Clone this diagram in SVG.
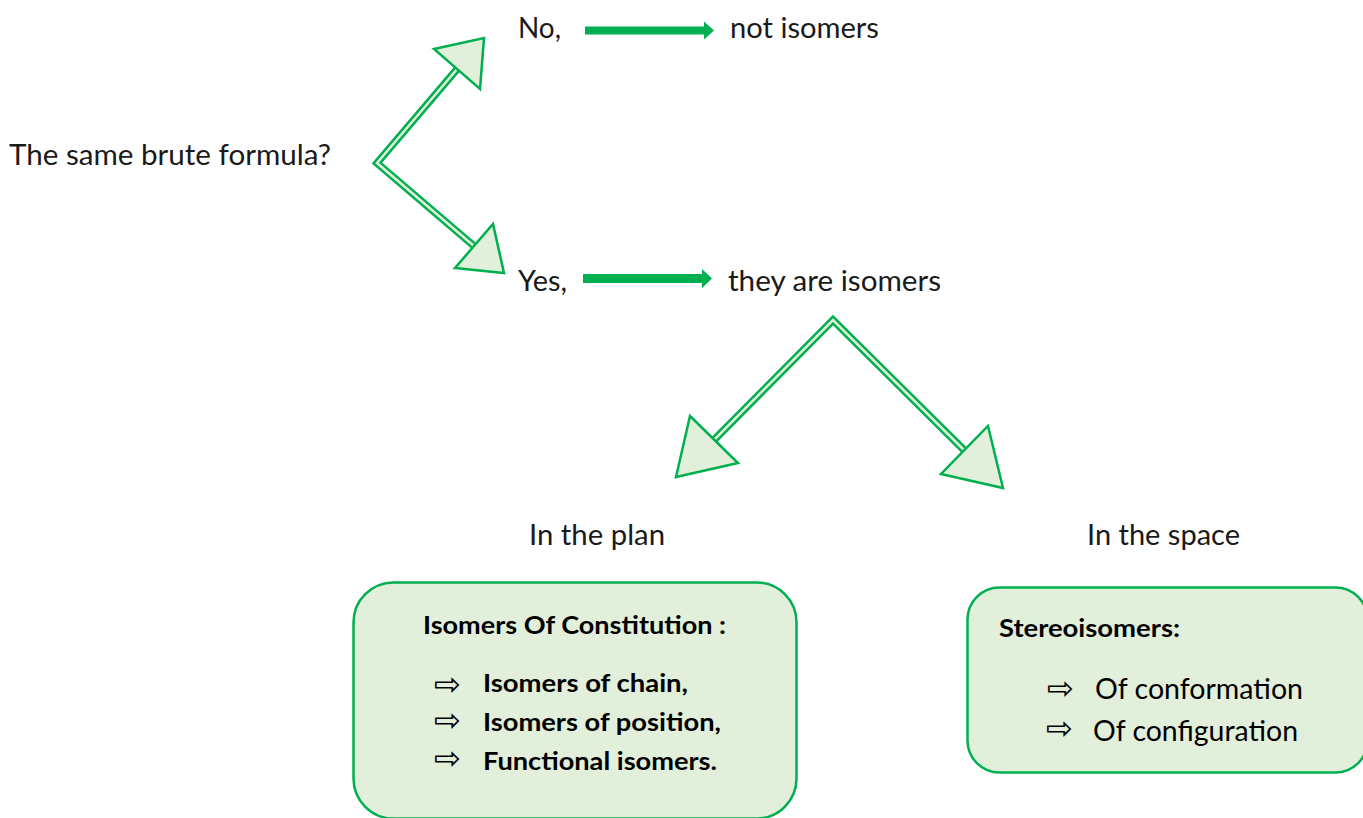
<svg xmlns="http://www.w3.org/2000/svg" width="1363" height="818" viewBox="0 0 1363 818">
<style>
.t{font-family:Lato,"Open Sans","Liberation Sans",sans-serif;font-size:28px;fill:#1a1a1a}
.b{font-family:Lato,"Open Sans","Liberation Sans",sans-serif;font-weight:bold;font-size:25px;fill:#000}
.r{font-family:Lato,"Open Sans","Liberation Sans",sans-serif;font-size:28px;fill:#000}
.bul{font-family:"DejaVu Sans",sans-serif;font-size:32px;fill:#000}
.box{fill:#E2EFDA;stroke:#00B050;stroke-width:2.5}
.so{fill:none;stroke:#00B050;stroke-width:7.5;stroke-linejoin:miter;stroke-miterlimit:10}
.si{fill:none;stroke:#E2EFDA;stroke-width:2.5;stroke-linejoin:miter;stroke-miterlimit:10}
.hd{fill:#E2EFDA;stroke:#00B050;stroke-width:2.5;stroke-linejoin:miter}
.sol{fill:#00B050}
</style>
<g id="q"><text class="t" x="9" y="165" textLength="322" lengthAdjust="spacingAndGlyphs">The same brute formula?</text></g>
<g id="no"><text class="t" x="518" y="38" textLength="43" lengthAdjust="spacingAndGlyphs">No,</text></g>
<g id="notiso"><text class="t" x="730" y="38" textLength="149" lengthAdjust="spacingAndGlyphs">not isomers</text></g>
<g id="yes"><text class="t" x="518" y="291" textLength="49" lengthAdjust="spacingAndGlyphs">Yes,</text></g>
<g id="areiso"><text class="t" x="728" y="291" textLength="213" lengthAdjust="spacingAndGlyphs">they are isomers</text></g>
<g id="plan"><text class="t" x="529" y="545" textLength="136" lengthAdjust="spacingAndGlyphs">In the plan</text></g>
<g id="space"><text class="t" x="1087" y="545" textLength="153" lengthAdjust="spacingAndGlyphs">In the space</text></g>
<g id="constitution">
<rect class="box" x="353.5" y="582.5" width="443" height="236" rx="40"/>
<text class="b" x="423" y="634" textLength="303" lengthAdjust="spacingAndGlyphs">Isomers Of Constitution :</text>
<text class="bul" x="434" y="695">⇨</text>
<text class="b" x="483" y="692" textLength="205" lengthAdjust="spacingAndGlyphs">Isomers of chain,</text>
<text class="bul" x="434" y="731">⇨</text>
<text class="b" x="483" y="731" textLength="238" lengthAdjust="spacingAndGlyphs">Isomers of position,</text>
<text class="bul" x="434" y="769">⇨</text>
<text class="b" x="483" y="770" textLength="234" lengthAdjust="spacingAndGlyphs">Functional isomers.</text>
</g>
<g id="stereo">
<rect class="box" x="967.5" y="587.5" width="400" height="185" rx="32"/>
<text class="b" x="999" y="637" textLength="181" lengthAdjust="spacingAndGlyphs">Stereoisomers:</text>
<text class="bul" x="1047" y="699">⇨</text>
<text class="r" x="1095" y="699" textLength="208" lengthAdjust="spacingAndGlyphs">Of conformation</text>
<text class="bul" x="1046" y="739">⇨</text>
<text class="r" x="1093" y="741" textLength="205" lengthAdjust="spacingAndGlyphs">Of configuration</text>
</g>
<g id="connectors">
<polyline class="so" points="458,68 377,163 474,246"/>
<polyline class="si" points="458,68 377,163 474,246"/>
<polygon class="hd" points="434,49 484,38 480,89"/>
<polygon class="hd" points="455,268 493,224 504,273"/>
<polyline class="so" points="714,440 833,320 964,450"/>
<polyline class="si" points="714,440 833,320 964,450"/>
<polygon class="hd" points="690,416 738,463 676,477"/>
<polygon class="hd" points="988,426 1003,488 941,474"/>
<polygon class="sol" points="585,26.5 704,26.5 704,21.5 714,30.5 704,39.5 704,34.5 585,34.5"/>
<polygon class="sol" points="583,274 702,274 702,269 712,278.5 702,288 702,283 583,283"/>
</g>
</svg>
